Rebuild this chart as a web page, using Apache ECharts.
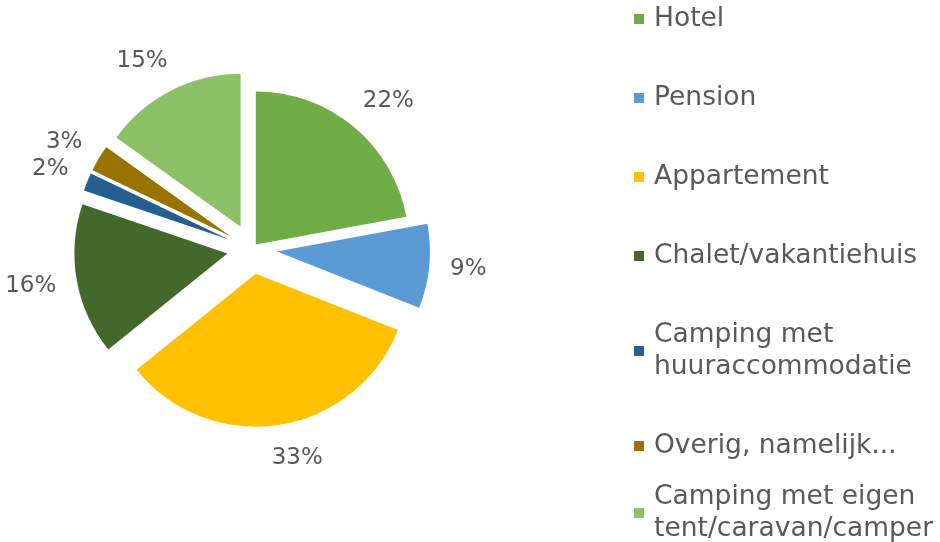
<!DOCTYPE html>
<html>
<head>
<meta charset="utf-8">
<script src="https://cdn.jsdelivr.net/npm/echarts@6/dist/echarts.min.js"></script>
<style>
  html, body { margin: 0; padding: 0; background: #fff; }
  #chart { width: 940px; height: 542px; }
</style>
</head>
<body>
<div id="chart"></div>
<script>
// accommodation types, in the order the slices go round (clockwise from 12 o'clock)
var categories = ['Hotel', 'Pension', 'Appartement', 'Chalet/vakantiehuis',
  'Camping met huuraccommodatie', 'Overig, namelijk...', 'Camping met eigen tent/caravan/camper'];
// share in percent
var shares = [22.1, 8.9, 33.2, 16.0, 1.9, 2.8, 15.1];
// how the legend wraps the long names
var legendLines = ['Hotel', 'Pension', 'Appartement', 'Chalet/vakantiehuis',
  'Camping met\nhuuraccommodatie', 'Overig, namelijk...', 'Camping met eigen\ntent/caravan/camper'];
var colors = ['#70AD47', '#5B9BD5', '#FFC000', '#43682B', '#255E91', '#997300', '#8CC168'];

var font = 'DejaVu Sans';
var textColor = '#595959';

var chart = echarts.init(document.getElementById('chart'));

// Hotel is pulled out a little, the other slices a lot more,
// so the pie is drawn twice and each copy only shows its own slices
function pieData(showIdx) {
  return categories.map(function (name, i) {
    var on = showIdx(i);
    return {
      name: name,
      value: shares[i],
      selected: on,
      itemStyle: { color: on ? colors[i] : 'rgba(0,0,0,0)' },
      label: { show: on }
    };
  });
}

function pieSeries(name, offset, showIdx) {
  return {
    name: name,
    type: 'pie',
    center: [252, 249],
    radius: 153,
    startAngle: 90,
    clockwise: true,
    selectedMode: 'multiple',
    selectedOffset: offset,
    avoidLabelOverlap: false,
    percentPrecision: 0,
    silent: true,
    itemStyle: { borderWidth: 0 },
    label: {
      position: 'outside',
      formatter: '{d}%',
      fontFamily: font,
      fontSize: 23,
      color: textColor,
      distanceToLabelLine: -12
    },
    labelLine: { show: false, length: 33, length2: 0 },
    emphasis: { disabled: true },
    data: pieData(showIdx)
  };
}

function legendFormatter(name) {
  return legendLines[categories.indexOf(name)];
}

function legendItems(from, to) {
  return categories.slice(from, to).map(function (name, k) {
    return { name: name, itemStyle: { color: colors[from + k] } };
  });
}

var legendBase = {
  orient: 'vertical',
  left: 634,
  padding: 0,
  itemWidth: 10,
  itemHeight: 10,
  itemGap: 47,
  icon: 'rect',
  selectedMode: false,
  formatter: legendFormatter,
  textStyle: {
    fontFamily: font,
    fontSize: 26.5,
    lineHeight: 32,
    color: textColor,
    padding: [0, 0, 0, 5]
  }
};

chart.setOption({
  animation: false,
  backgroundColor: '#fff',
  legend: [
    Object.assign({}, legendBase, { top: 3, data: legendItems(0, 6) }),
    Object.assign({}, legendBase, { top: 481, data: legendItems(6, 7) })
  ],
  series: [
    pieSeries('hotel', 6, function (i) { return i === 0; }),
    pieSeries('overig', 25, function (i) { return i !== 0; })
  ]
});
</script>
</body>
</html>
